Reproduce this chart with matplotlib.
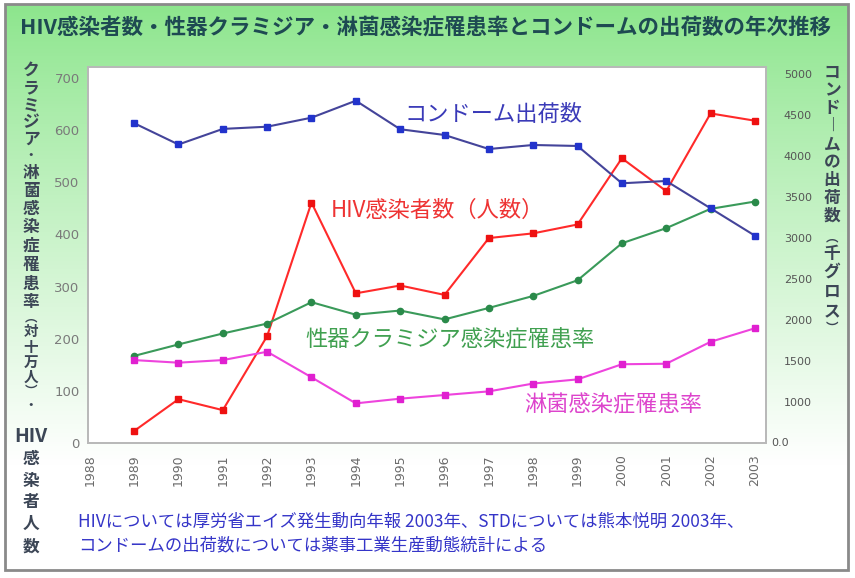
import numpy as np
import matplotlib
matplotlib.use("Agg")
import matplotlib.pyplot as plt
from matplotlib.patches import Rectangle
import matplotlib.transforms as mtransforms

plt.rcParams['font.family'] = ['Noto Sans CJK JP', 'DejaVu Sans']

# ---------------- data ----------------
years = list(range(1989, 2004))
x_ticks = list(range(1988, 2004))
hiv = [23, 84, 63, 205, 461, 287, 302, 284, 393, 402, 419, 546, 483, 632, 618]
chlamydia = [167, 189, 210, 229, 270, 246, 254, 237, 259, 282, 312, 383, 412, 449, 463]
gonorrhea = [159, 154, 159, 175, 126, 76, 85, 92, 99, 114, 122, 151, 152, 194, 220]
condom = [4400, 4140, 4330, 4357, 4467, 4674, 4326, 4256, 4085, 4134, 4122, 3667, 3695, 3362, 3028]
left_ticks = [0, 100, 200, 300, 400, 500, 600, 700]
right_ticks = [500, 1000, 1500, 2000, 2500, 3000, 3500, 4000, 4500, 5000]
right_labels = ['', '1000', '1500', '2000', '2500', '3000', '3500', '4000', '4500', '5000']

title = "HIV感染者数・性器クラミジア・淋菌感染症罹患率とコンドームの出荷数の年次推移"
lab_condom = "コンドーム出荷数"
lab_hiv = "HIV感染者数（人数）"
lab_chl = "性器クラミジア感染症罹患率"
lab_gon = "淋菌感染症罹患率"
note1 = "HIVについては厚労省エイズ発生動向年報 2003年、STDについては熊本悦明 2003年、"
note2 = "コンドームの出荷数については薬事工業生産動態統計による"

W, H = 855, 578
fig = plt.figure(figsize=(W / 100, H / 100), dpi=100)

# ---------------- background ----------------
bg = fig.add_axes([0, 0, 1, 1], zorder=-10)
bg.set_xlim(0, W)
bg.set_ylim(H, 0)
bg.axis('off')
top = np.array([0.55, 0.90, 0.55])
white = np.array([1.0, 1.0, 1.0])
ys = np.linspace(0, 1, 300)[:, None]
t = np.clip(ys * H / 470.0, 0, 1) ** 0.9
grad = top[None, None, :] * (1 - t[..., None]) + white[None, None, :] * t[..., None]
grad = np.repeat(grad, 2, axis=1)
bg.imshow(grad, extent=(6, 848, 570, 5), aspect='auto', zorder=0)
bg.add_patch(Rectangle((5, 4), 843, 566, fill=False, ec='#8a8a8a', lw=2, zorder=2))

bg.text(425, 28, title, ha='center', va='center', fontsize=15.5,
        color='#1e4a52', fontweight='bold')

# left vertical label
left_chars = ["ク", "ラ", "ミ", "ジ", "ア", "・", "淋", "菌", "感", "染", "症", "罹", "患", "率",
              "︵", "対", "十", "万", "人", "︶", "・", "HIV", "感", "染", "者", "人", "数"]
left_y = [70, 88, 105, 122, 139, 156, 173, 191, 209, 227, 246, 265, 284, 302,
          318, 331, 347, 362, 377, 391, 405, 436, 459, 481, 502, 524, 547]
for i, (ch, yy) in enumerate(zip(left_chars, left_y)):
    if ch == "HIV":
        fs = 14
    elif ch in ("︵", "︶", "・"):
        fs = 9
    elif 14 <= i <= 20:
        fs = 10.5
    else:
        fs = 12
    bg.text(31, yy, ch, ha='center', va='center', fontsize=fs, color='#3c4656',
            fontweight='bold')

right_chars = ["コ", "ン", "ド", "︱", "ム", "の", "出", "荷", "数", "︵", "千", "グ", "ロ", "ス", "︶"]
right_y = [73, 90, 108, 126, 144, 162, 180, 198, 216, 238, 254, 272, 292, 311, 328]
for ch, yy in zip(right_chars, right_y):
    fs = 9 if ch in ("︵", "︶") else 12
    bg.text(832, yy, ch, ha='center', va='center', fontsize=fs, color='#3c4656',
            fontweight='bold')

bg.text(78, 522, note1, ha='left', va='center', fontsize=12.5, color='#3535c8')
bg.text(78, 545, note2, ha='left', va='center', fontsize=12.5, color='#3535c8')

# ---------------- main axes ----------------
L, R, T, B = 88, 766, 67, 443
ax = fig.add_axes([L / W, 1 - B / H, (R - L) / W, (B - T) / H])
ax.set_facecolor('white')
ax.set_xlim(1987.96, 2003.25)
ax.set_ylim(0, 721)
ax2 = ax.twinx()
ax2.set_ylim(500, 5085)

for a in (ax, ax2):
    for s in a.spines.values():
        s.set_color('#b8b8b8')
        s.set_linewidth(1.2)

ax.set_xticks(x_ticks)
ax.set_xticklabels([str(v) for v in x_ticks], rotation=90, fontsize=9,
                   color='#6a6a6a', family='DejaVu Sans', va='top')
ax.tick_params(axis='x', length=0, pad=8)
ax.set_yticks(left_ticks)
ax.set_yticklabels([str(v) for v in left_ticks], fontsize=9.5, color='#7a7a7a',
                   family='DejaVu Sans')
ax.tick_params(axis='y', length=0, pad=6)

ax2.set_yticks(right_ticks)
ax2.set_yticklabels(right_labels, fontsize=8, color='#555555', family='DejaVu Sans',
                    ha='right')
ax2.tick_params(axis='y', length=0, pad=33)
trans = mtransforms.blended_transform_factory(ax2.transAxes, ax2.transData)
ax2.text(1.008, 500, "0.0", transform=trans, ha='left', va='center', fontsize=8,
         color='#555555', family='DejaVu Sans')

ms = 4.5
ax2.plot(years, condom, color='#44449a', lw=1.5, marker='s', ms=ms,
         mfc='#2233cc', mec='#2233cc', zorder=3)
ax.plot(years, hiv, color='#ff2a2a', lw=1.5, marker='s', ms=ms,
        mfc='#ee1111', mec='#ee1111', zorder=3)
ax.plot(years, chlamydia, color='#3a9a5a', lw=1.5, marker='o', ms=ms,
        mfc='#2a8a4a', mec='#2a8a4a', zorder=3)
ax.plot(years, gonorrhea, color='#ee44dd', lw=1.5, marker='s', ms=ms,
        mfc='#e020d0', mec='#e020d0', zorder=3)

ax.set_zorder(ax2.get_zorder() - 1)
ax2.patch.set_visible(False)

ax.text(1995.1, 631, lab_condom, ha='left', va='center', fontsize=16, color='#3a3ab8')
ax.text(1993.43, 446, lab_hiv, ha='left', va='center', fontsize=16, color='#ee3333')
ax.text(1992.87, 197, lab_chl, ha='left', va='center', fontsize=16, color='#40a050')
ax.text(1997.8, 73, lab_gon, ha='left', va='center', fontsize=16, color='#dd44cc')

fig.savefig("out.png", dpi=100)
